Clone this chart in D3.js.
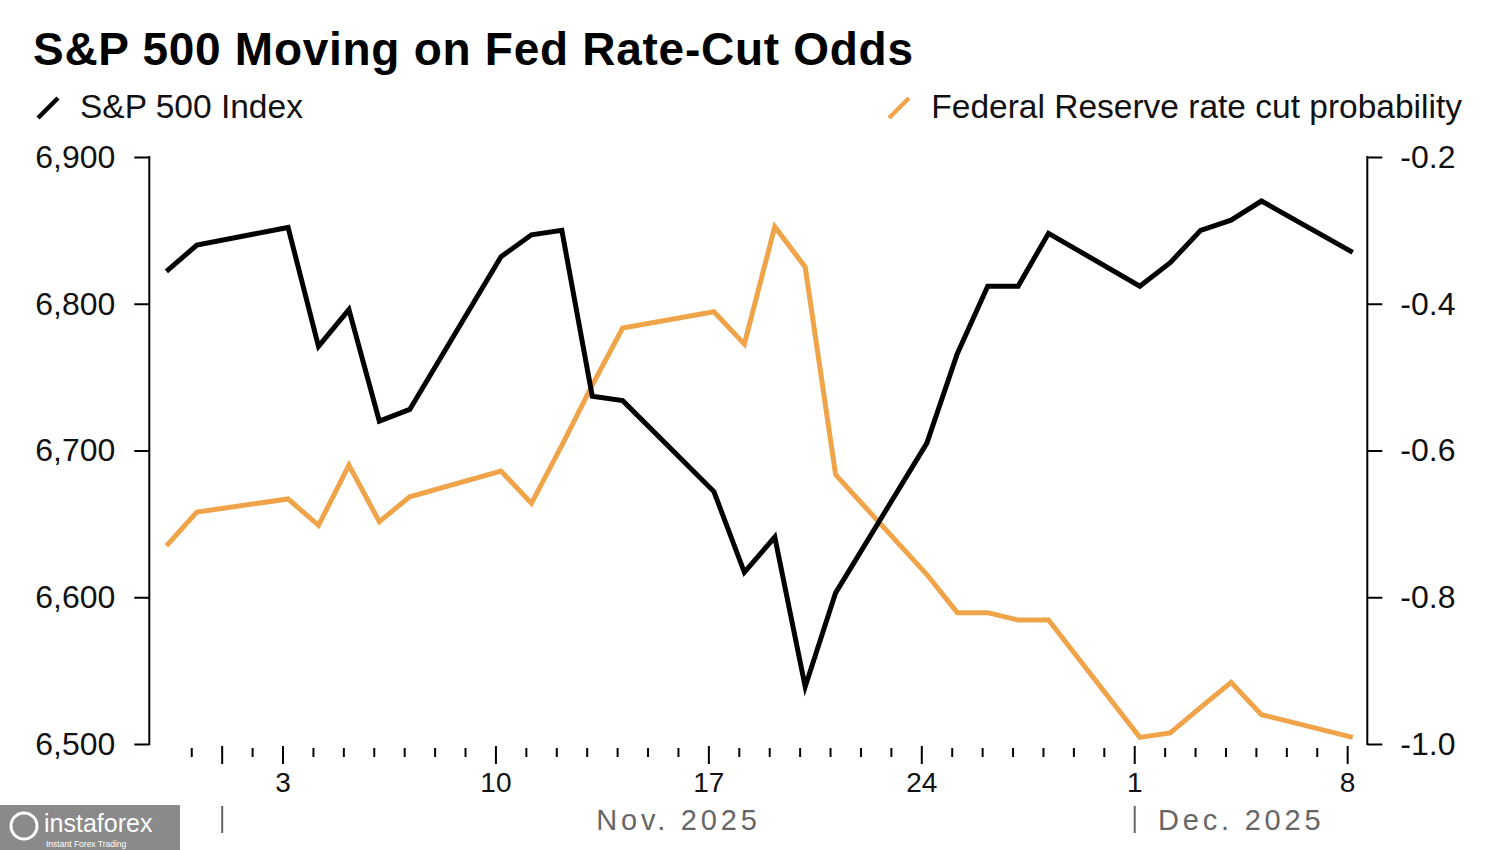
<!DOCTYPE html>
<html>
<head>
<meta charset="utf-8">
<script src="https://cdn.jsdelivr.net/npm/d3@7"></script>
<style>
  html, body { margin: 0; padding: 0; background: #fff; }
  svg { display: block; font-family: "Liberation Sans", Arial, sans-serif; }
</style>
</head>
<body>
<svg id="chart" width="1500" height="850"></svg>
<script>
// ---------- data ----------
const dates = ["2025-10-30","2025-10-31","2025-11-03","2025-11-04","2025-11-05","2025-11-06","2025-11-07",
  "2025-11-10","2025-11-11","2025-11-12","2025-11-13","2025-11-14",
  "2025-11-17","2025-11-18","2025-11-19","2025-11-20","2025-11-21",
  "2025-11-24","2025-11-25","2025-11-26","2025-11-27","2025-11-28",
  "2025-12-01","2025-12-02","2025-12-03","2025-12-04","2025-12-05","2025-12-08"];
const spx = [6822, 6840, 6852, 6771, 6796, 6720, 6728,
  6832, 6847, 6850, 6737, 6734,
  6672, 6617, 6641, 6539, 6603,
  6705, 6766, 6812, 6812, 6848,
  6812, 6828, 6850, 6857, 6870, 6835];
const cutProb = [-0.730, -0.684, -0.666, -0.702, -0.620, -0.697, -0.663,
  -0.628, -0.672, -0.593, -0.511, -0.433,
  -0.411, -0.455, -0.295, -0.350, -0.633,
  -0.769, -0.821, -0.821, -0.831, -0.831,
  -0.991, -0.985, -0.950, -0.916, -0.960, -0.991];
const leftTicks = [6500, 6600, 6700, 6800, 6900];
const rightTicks = [-1.0, -0.8, -0.6, -0.4, -0.2];
const monthLabels = ["Nov. 2025", "Dec. 2025"];
const title = "S&P 500 Moving on Fed Rate-Cut Odds";
const seriesNames = ["S&P 500 Index", "Federal Reserve rate cut probability"];

// ---------- layout ----------
const W = 1500, H = 850;
const plot = { left: 149.3, right: 1367.3, top: 157, bottom: 744 };
const BLACK = "#000000", ORANGE = "#F0A449";

const svg = d3.select("#chart");
svg.append("rect").attr("width", W).attr("height", H).attr("fill", "#fff");

const x = d3.scaleUtc()
  .domain([new Date(Date.UTC(2025, 9, 29, 14, 30)), new Date(Date.UTC(2025, 11, 8, 15, 30))])
  .range([plot.left, plot.right]);
const yL = d3.scaleLinear().domain([6500, 6900]).range([plot.bottom, plot.top]);
const yR = d3.scaleLinear().domain([-1.0, -0.2]).range([plot.bottom, plot.top]);

const parsed = dates.map(d => new Date(d + "T04:00:00Z"));

// ---------- title & legend ----------
svg.append("text").attr("x", 33).attr("y", 65)
  .attr("font-size", 46).attr("font-weight", "bold").attr("fill", "#000")
  .attr("textLength", 880).attr("lengthAdjust", "spacing")
  .text(title);

svg.append("line").attr("x1", 38).attr("y1", 118).attr("x2", 58).attr("y2", 98)
  .attr("stroke", BLACK).attr("stroke-width", 4.5);
svg.append("text").attr("x", 80).attr("y", 118).attr("font-size", 33.5).attr("fill", "#111")
  .text(seriesNames[0]);

svg.append("line").attr("x1", 889).attr("y1", 118).attr("x2", 909).attr("y2", 98)
  .attr("stroke", ORANGE).attr("stroke-width", 4.5);
svg.append("text").attr("x", 1462).attr("y", 118).attr("font-size", 33.5).attr("fill", "#111")
  .attr("text-anchor", "end").text(seriesNames[1]);

// ---------- axes ----------
const gL = svg.append("g").attr("transform", `translate(${plot.left},0)`)
  .call(d3.axisLeft(yL).tickValues(leftTicks).tickFormat(d3.format(",")).tickSize(15).tickPadding(19));
const gR = svg.append("g").attr("transform", `translate(${plot.right},0)`)
  .call(d3.axisRight(yR).tickValues(rightTicks).tickFormat(d => d.toFixed(1)).tickSize(15).tickPadding(18));
[gL, gR].forEach(g => {
  g.select(".domain").remove();
  g.selectAll(".tick line").attr("stroke", "#000").attr("stroke-width", 2);
  g.selectAll(".tick text").attr("font-size", 32).attr("fill", "#111")
    .attr("font-family", "Liberation Sans, Arial, sans-serif");
});
// vertical axis lines
svg.append("line").attr("x1", plot.left).attr("x2", plot.left).attr("y1", plot.top - 1).attr("y2", plot.bottom + 1)
  .attr("stroke", "#000").attr("stroke-width", 2);
svg.append("line").attr("x1", plot.right).attr("x2", plot.right).attr("y1", plot.top - 1).attr("y2", plot.bottom + 1)
  .attr("stroke", "#000").attr("stroke-width", 2);

// x-axis day ticks
const days = d3.utcDay.range(new Date(Date.UTC(2025, 9, 31)), new Date(Date.UTC(2025, 11, 9)));
const isMajor = d => d.getUTCDay() === 1 || d.getUTCDate() === 1;
const gX = svg.append("g");
gX.selectAll("line.day").data(days).join("line")
  .attr("x1", d => x(d)).attr("x2", d => x(d))
  .attr("y1", d => isMajor(d) ? 746 : 748)
  .attr("y2", d => isMajor(d) ? 764 : 757)
  .attr("stroke", "#000").attr("stroke-width", 2);
gX.selectAll("text.day").data(days.filter(d => d.getUTCDay() === 1)).join("text")
  .attr("x", d => x(d)).attr("y", 792).attr("text-anchor", "middle")
  .attr("font-size", 28).attr("fill", "#111")
  .text(d => d.getUTCDate());

// month separators & labels
const lastDay = days[days.length - 1];
const months = [new Date(Date.UTC(2025, 10, 1)), new Date(Date.UTC(2025, 11, 1))];
months.forEach((m, i) => {
  const xm = x(m);
  svg.append("line").attr("x1", xm).attr("x2", xm).attr("y1", 806).attr("y2", 833)
    .attr("stroke", "#666").attr("stroke-width", 2);
  const next = d3.utcMonth.offset(m, 1);
  const xe = Math.min(x(next), x(lastDay));
  svg.append("text").attr("x", (xm + xe) / 2).attr("y", 830).attr("text-anchor", "middle")
    .attr("font-size", 29).attr("letter-spacing", 3.8).attr("fill", "#666")
    .text(monthLabels[i]);
});

// ---------- lines ----------
const lineR = d3.line().x((d, i) => x(parsed[i])).y(d => yR(d));
const lineL = d3.line().x((d, i) => x(parsed[i])).y(d => yL(d));
svg.append("path").datum(cutProb).attr("d", lineR)
  .attr("fill", "none").attr("stroke", ORANGE).attr("stroke-width", 5);
svg.append("path").datum(spx).attr("d", lineL)
  .attr("fill", "none").attr("stroke", BLACK).attr("stroke-width", 5);

// ---------- watermark ----------
const wm = svg.append("g");
wm.append("rect").attr("x", 0).attr("y", 805).attr("width", 180).attr("height", 45).attr("fill", "#8a8a8a");
wm.append("circle").attr("cx", 24).attr("cy", 826).attr("r", 13).attr("fill", "none").attr("stroke", "#fff").attr("stroke-width", 3);
wm.append("text").attr("x", 44).attr("y", 832).attr("font-size", 25).attr("fill", "#fff").text("instaforex");
wm.append("text").attr("x", 46).attr("y", 847).attr("font-size", 8.5).attr("fill", "#fff").text("Instant Forex Trading");
</script>
</body>
</html>
